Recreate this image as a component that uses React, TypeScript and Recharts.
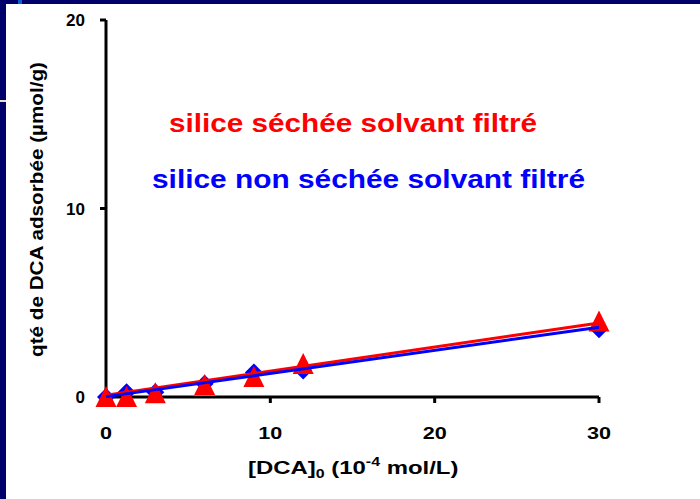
import React from 'react';
import { ScatterChart, Scatter, XAxis, YAxis } from 'recharts';

// Data
const xValues = [0, 1.25, 3, 6, 9, 12, 30];
const nonSecheeValues = [0, 0.25, 0.25, 0.7, 1.3, 1.4, 3.6];
const secheeValues = [0, 0, 0.2, 0.63, 1.06, 1.75, 4.0];
const fitX = [0, 30];
const fitSechee = [0.1, 3.93];
const fitNonSechee = [0.02, 3.7];
const xTicks = [0, 10, 20, 30];
const yTicks = [0, 10, 20];

const labelSechee = 'silice séchée solvant filtré';
const labelNonSechee = 'silice non séchée solvant filtré';
const yTitle = 'qté de DCA adsorbée (µmol/g)';

const RED = '#ff0000';
const BLUE = '#0000ff';
const FONT = '"Liberation Sans", Arial, Helvetica, sans-serif';

const toPoints = (xs: number[], ys: number[]) => xs.map((x, i) => ({ x, y: ys[i] }));

const nonSecheeData = toPoints(xValues, nonSecheeValues);
const secheeData = toPoints(xValues, secheeValues);
const fitSecheeData = toPoints(fitX, fitSechee);
const fitNonSecheeData = toPoints(fitX, fitNonSechee);

const Triangle = (props: any) => {
  const { cx, cy } = props;
  if (cx == null || cy == null) return <g />;
  return (
    <polygon
      points={`${cx},${cy - 11} ${cx - 10.5},${cy + 10} ${cx + 10.5},${cy + 10}`}
      fill={RED}
    />
  );
};

const Diamond = (props: any) => {
  const { cx, cy } = props;
  if (cx == null || cy == null) return <g />;
  return (
    <polygon
      points={`${cx},${cy - 9} ${cx + 9},${cy} ${cx},${cy + 9} ${cx - 9},${cy}`}
      fill={BLUE}
    />
  );
};

const NoShape = () => <g />;

const YTick = (props: any) => {
  const { x, y, payload } = props;
  return (
    <text x={x} y={y + 6} textAnchor="end" fontFamily={FONT} fontWeight="bold" fontSize={17} fill="#000">
      {payload.value}
    </text>
  );
};

const XTick = (props: any) => {
  const { x, y, payload } = props;
  return (
    <g transform={`translate(${x},${y + 36}) scale(1.27,1)`}>
      <text x={0} y={0} textAnchor="middle" fontFamily={FONT} fontWeight="bold" fontSize={17} fill="#000">
        {payload.value}
      </text>
    </g>
  );
};

export default function App() {
  return (
    <div style={{ position: 'absolute', left: 0, top: 0, width: 700, height: 499, background: '#ffffff', overflow: 'hidden' }}>
      {/* slide frame */}
      <div style={{ position: 'absolute', left: 0, top: 0, width: 700, height: 4, background: '#00006b' }} />
      <div style={{ position: 'absolute', left: 0, top: 0, width: 6, height: 499, background: '#00006b' }} />
      <div style={{ position: 'absolute', left: 18, top: 0, width: 4, height: 4, background: '#0a5ed8' }} />
      <div style={{ position: 'absolute', left: 0, top: 100, width: 6, height: 2, background: '#e8e0c8' }} />

      <div style={{ position: 'absolute', left: 0, top: 0 }}>
        <ScatterChart width={700} height={499} margin={{ top: 20, right: 101, bottom: 0, left: 0 }}>
          <XAxis
            type="number"
            dataKey="x"
            domain={[0, 30]}
            ticks={xTicks}
            interval={0}
            height={102}
            axisLine={{ stroke: '#000', strokeWidth: 3 }}
            tickLine={{ stroke: '#000', strokeWidth: 3 }}
            tickSize={6}
            tickMargin={0}
            tick={XTick}
          />
          <YAxis
            type="number"
            dataKey="y"
            domain={[0, 20]}
            ticks={yTicks}
            interval={0}
            width={106}
            axisLine={{ stroke: '#000', strokeWidth: 3 }}
            tickLine={{ stroke: '#000', strokeWidth: 3 }}
            tickSize={6}
            tickMargin={15}
            tick={YTick}
          />
          <Scatter data={nonSecheeData} shape={Diamond} isAnimationActive={false} />
          <Scatter data={secheeData} shape={Triangle} isAnimationActive={false} />
          <Scatter
            data={fitSecheeData}
            shape={NoShape}
            line={{ stroke: RED, strokeWidth: 3 }}
            isAnimationActive={false}
          />
          <Scatter
            data={fitNonSecheeData}
            shape={NoShape}
            line={{ stroke: BLUE, strokeWidth: 3 }}
            isAnimationActive={false}
          />
        </ScatterChart>
      </div>

      <svg width={700} height={499} style={{ position: 'absolute', left: 0, top: 0, pointerEvents: 'none' }}>
        <text
          x={169}
          y={132}
          fontFamily={FONT}
          fontWeight="bold"
          fontSize={26}
          fill={RED}
          textLength={368}
          lengthAdjust="spacingAndGlyphs"
        >
          {labelSechee}
        </text>
        <text
          x={152}
          y={188}
          fontFamily={FONT}
          fontWeight="bold"
          fontSize={26}
          fill={BLUE}
          textLength={433}
          lengthAdjust="spacingAndGlyphs"
        >
          {labelNonSechee}
        </text>
        <text
          transform="translate(43,209.5) rotate(-90)"
          x={0}
          y={0}
          textAnchor="middle"
          fontFamily={FONT}
          fontWeight="bold"
          fontSize={18}
          fill="#000"
          textLength={295}
          lengthAdjust="spacingAndGlyphs"
        >
          {yTitle}
        </text>
        <g transform="translate(248,474) scale(1.33,1)">
          <text x={0} y={0} fontFamily={FONT} fontWeight="bold" fontSize={18} fill="#000">
            [DCA]
            <tspan fontSize={12} dy={4}>0</tspan>
            <tspan dy={-4}> (10</tspan>
            <tspan fontSize={12} dy={-8}>-4</tspan>
            <tspan dy={8}> mol/L)</tspan>
          </text>
        </g>
      </svg>
    </div>
  );
}
